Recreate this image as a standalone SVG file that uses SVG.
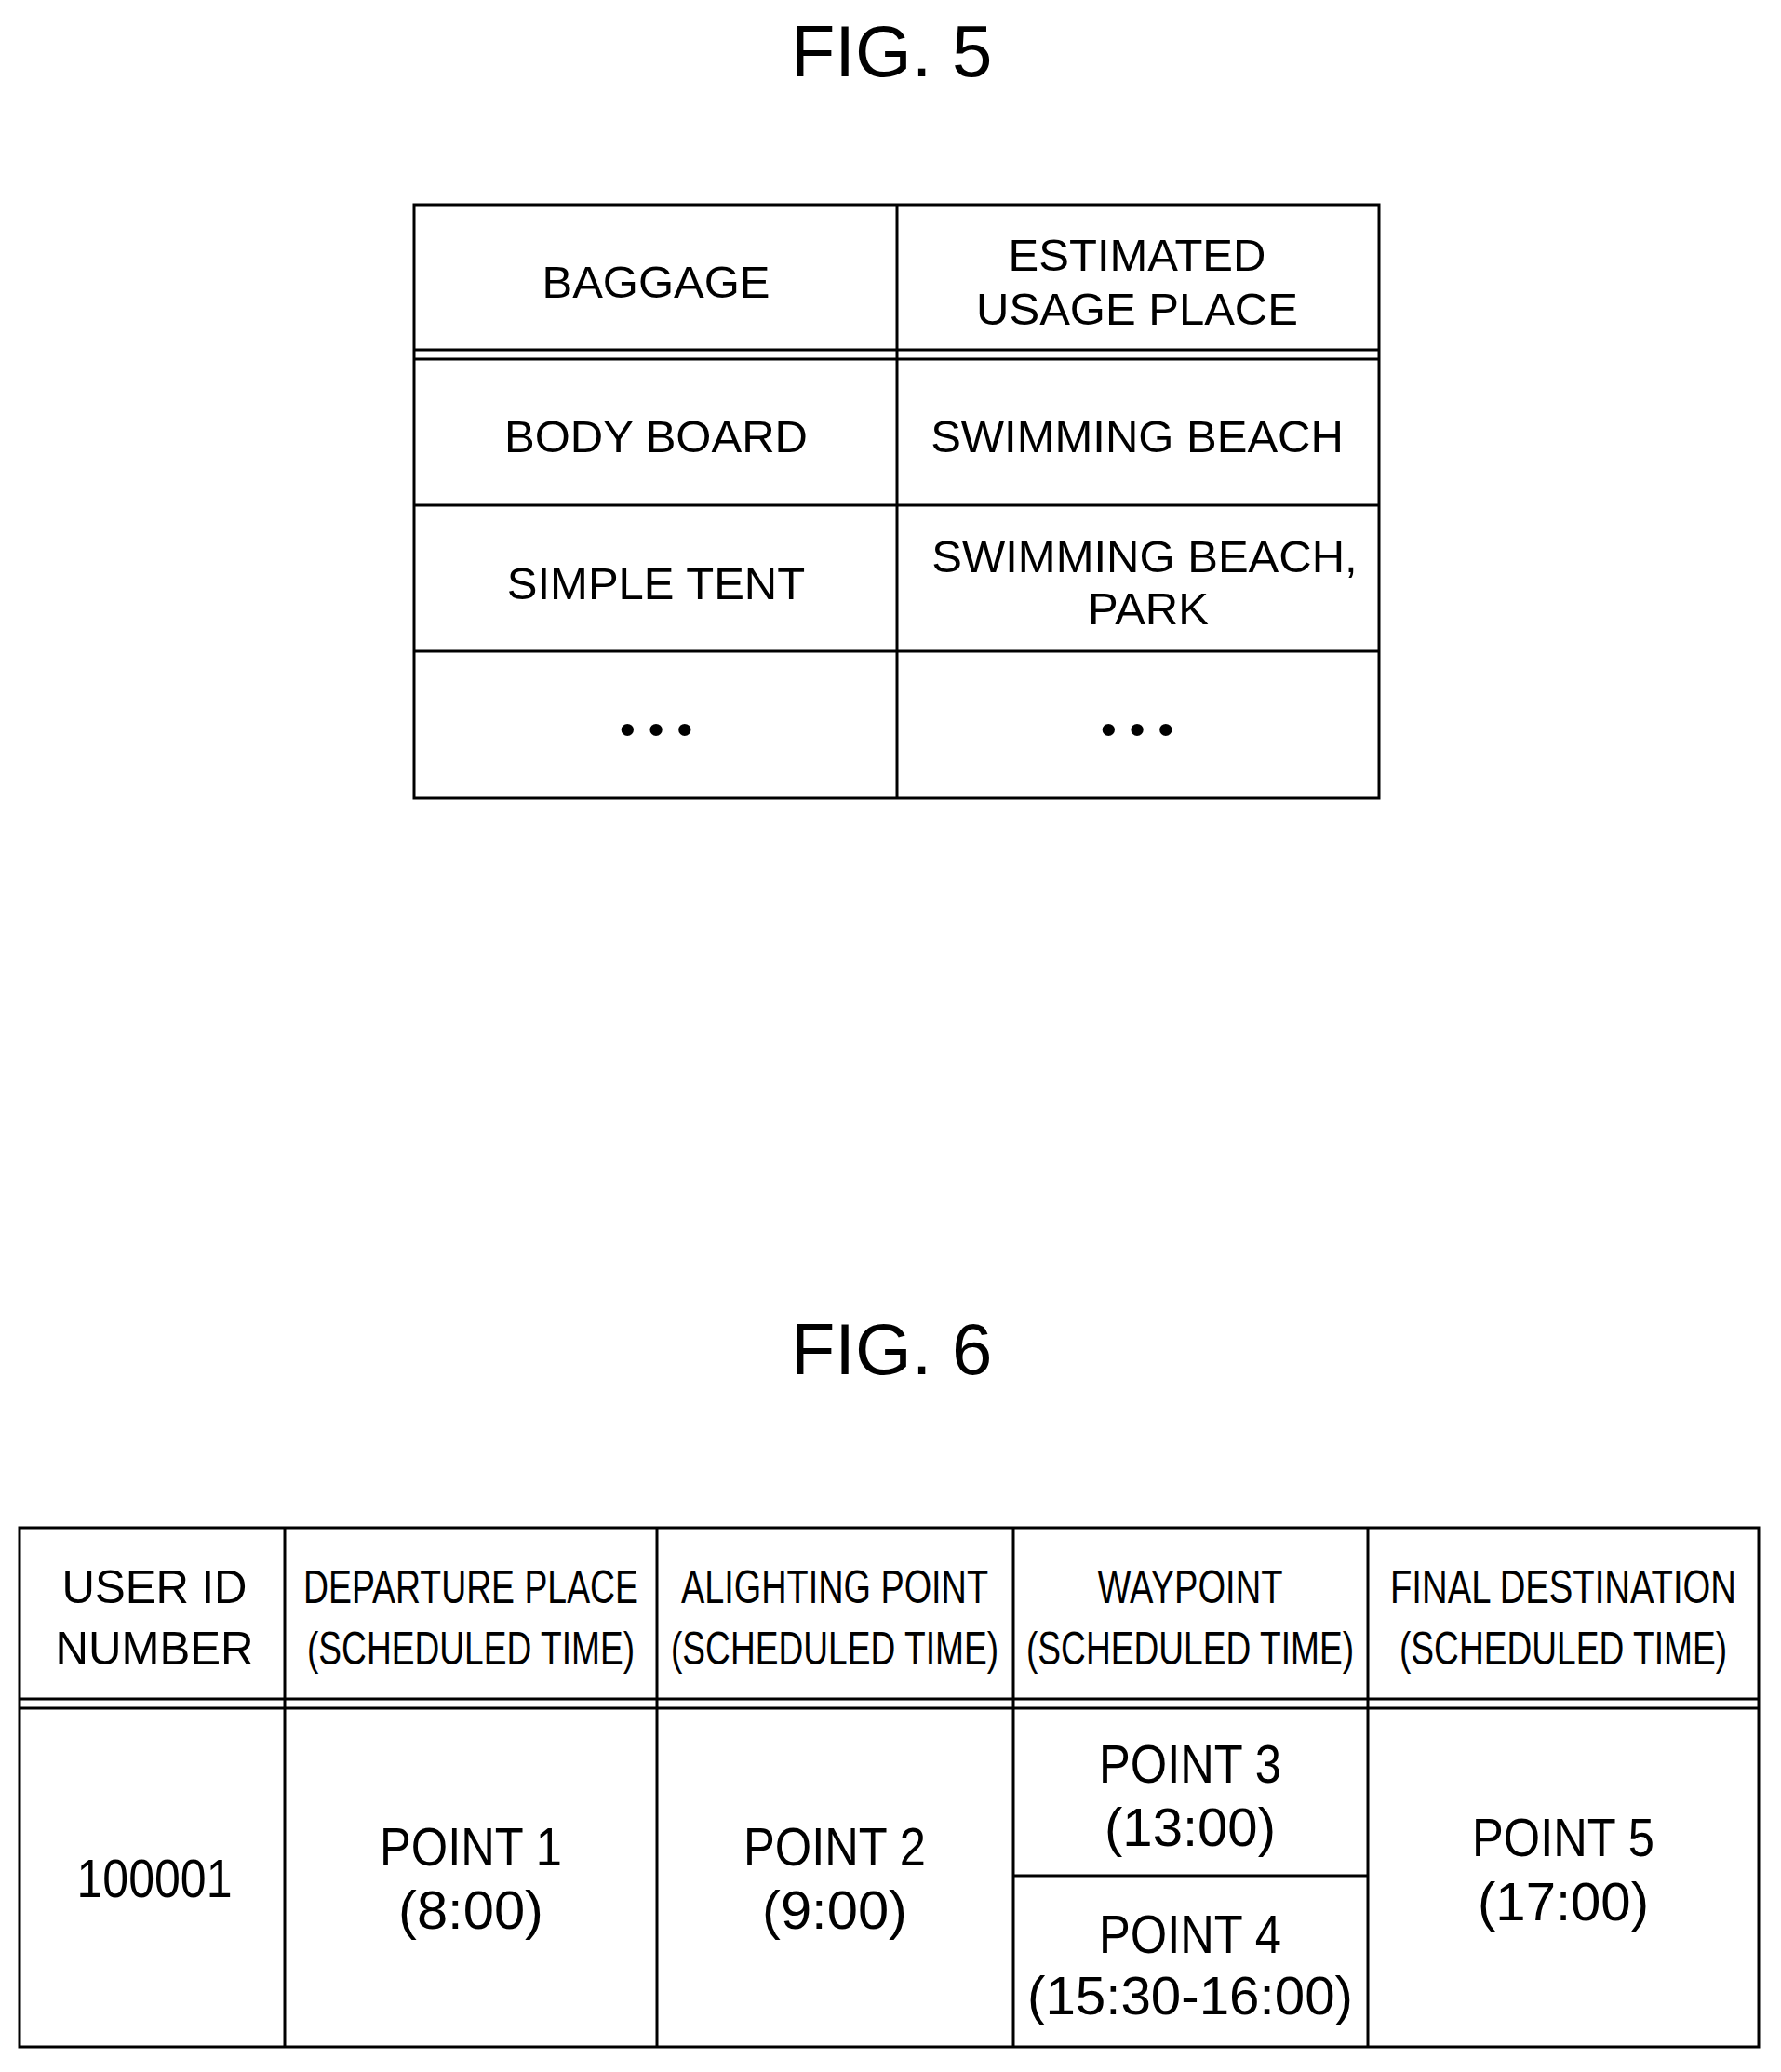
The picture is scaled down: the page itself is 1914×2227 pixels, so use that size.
<svg xmlns="http://www.w3.org/2000/svg" width="1914" height="2227" viewBox="0 0 1914 2227">
<style>
text{font-family:"Liberation Sans",Arial,sans-serif;fill:#000;text-anchor:middle}
.t{font-size:78px}
.a{font-size:49px}
.h{font-size:50px}
.b{font-size:58px}
line,rect.c{stroke:#000;stroke-width:3;fill:none}
</style>
<rect width="1914" height="2227" fill="#fff"/>
<text class="t" x="958" y="82">FIG. 5</text>
<g id="fig5">
<rect class="c" x="445" y="220" width="1037" height="638"/>
<line x1="964" y1="220" x2="964" y2="858"/>
<line x1="445" y1="376" x2="1482" y2="376"/>
<line x1="445" y1="386" x2="1482" y2="386"/>
<line x1="445" y1="543" x2="1482" y2="543"/>
<line x1="445" y1="700" x2="1482" y2="700"/>
<text class="a" x="705" y="320">BAGGAGE</text>
<text class="a" x="1222" y="291">ESTIMATED</text>
<text class="a" x="1222" y="349">USAGE PLACE</text>
<text class="a" x="705" y="486">BODY BOARD</text>
<text class="a" x="1222" y="486">SWIMMING BEACH</text>
<text class="a" x="705" y="644">SIMPLE TENT</text>
<text class="a" x="1230" y="615">SWIMMING BEACH,</text>
<text class="a" x="1234" y="671">PARK</text>
<text class="a" x="705" y="800">• • •</text>
<text class="a" x="1222" y="800">• • •</text>
</g>
<text class="t" x="958" y="1477">FIG. 6</text>
<g id="fig6">
<rect class="c" x="21" y="1642" width="1869" height="558"/>
<line x1="21" y1="1826" x2="1890" y2="1826"/>
<line x1="21" y1="1836" x2="1890" y2="1836"/>
<line x1="306" y1="1642" x2="306" y2="2200"/>
<line x1="706" y1="1642" x2="706" y2="2200"/>
<line x1="1089" y1="1642" x2="1089" y2="2200"/>
<line x1="1470" y1="1642" x2="1470" y2="2200"/>
<line x1="1089" y1="2016" x2="1470" y2="2016"/>
<text class="h" x="166" y="1723" textLength="199" lengthAdjust="spacingAndGlyphs">USER ID</text>
<text class="h" x="166" y="1789" textLength="213" lengthAdjust="spacingAndGlyphs">NUMBER</text>
<text class="h" x="506" y="1723" textLength="360" lengthAdjust="spacingAndGlyphs">DEPARTURE PLACE</text>
<text class="h" x="506" y="1789" textLength="352" lengthAdjust="spacingAndGlyphs">(SCHEDULED TIME)</text>
<text class="h" x="897" y="1723" textLength="330" lengthAdjust="spacingAndGlyphs">ALIGHTING POINT</text>
<text class="h" x="897" y="1789" textLength="352" lengthAdjust="spacingAndGlyphs">(SCHEDULED TIME)</text>
<text class="h" x="1279" y="1723" textLength="199" lengthAdjust="spacingAndGlyphs">WAYPOINT</text>
<text class="h" x="1279" y="1789" textLength="352" lengthAdjust="spacingAndGlyphs">(SCHEDULED TIME)</text>
<text class="h" x="1680" y="1723" textLength="372" lengthAdjust="spacingAndGlyphs">FINAL DESTINATION</text>
<text class="h" x="1680" y="1789" textLength="352" lengthAdjust="spacingAndGlyphs">(SCHEDULED TIME)</text>
<text class="b" x="166" y="2039" textLength="167" lengthAdjust="spacingAndGlyphs">100001</text>
<text class="b" x="506" y="2005" textLength="196" lengthAdjust="spacingAndGlyphs">POINT 1</text>
<text class="b" x="506" y="2073" textLength="156" lengthAdjust="spacingAndGlyphs">(8:00)</text>
<text class="b" x="897" y="2005" textLength="196" lengthAdjust="spacingAndGlyphs">POINT 2</text>
<text class="b" x="897" y="2073" textLength="156" lengthAdjust="spacingAndGlyphs">(9:00)</text>
<text class="b" x="1279" y="1916" textLength="196" lengthAdjust="spacingAndGlyphs">POINT 3</text>
<text class="b" x="1279" y="1984" textLength="184" lengthAdjust="spacingAndGlyphs">(13:00)</text>
<text class="b" x="1279" y="2099" textLength="196" lengthAdjust="spacingAndGlyphs">POINT 4</text>
<text class="b" x="1279" y="2165" textLength="350" lengthAdjust="spacingAndGlyphs">(15:30-16:00)</text>
<text class="b" x="1680" y="1995" textLength="196" lengthAdjust="spacingAndGlyphs">POINT 5</text>
<text class="b" x="1680" y="2064" textLength="184" lengthAdjust="spacingAndGlyphs">(17:00)</text>
</g>
</svg>
